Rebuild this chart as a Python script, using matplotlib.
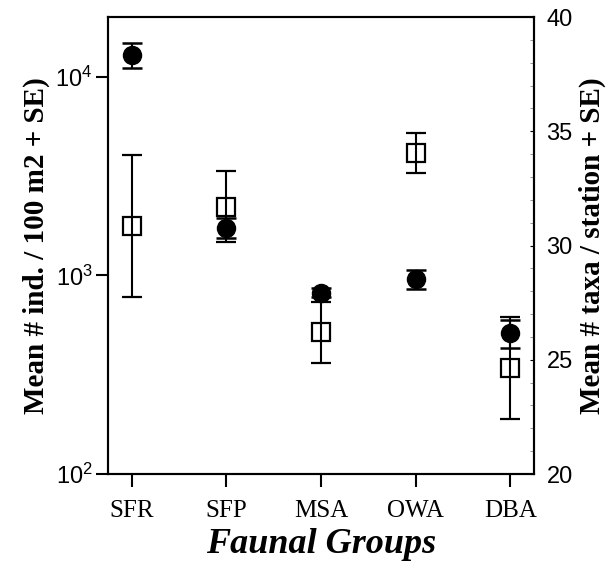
import matplotlib
matplotlib.use('Agg')
import matplotlib.pyplot as plt
from matplotlib.ticker import FixedLocator, MultipleLocator, NullLocator

plt.rcParams['mathtext.fontset'] = 'custom'
plt.rcParams['mathtext.rm'] = 'Liberation Sans'

# faunal groups on the x axis
groups = ['SFR', 'SFP', 'MSA', 'OWA', 'DBA']

# mean density (ind. / 100 m2) and SE - filled circles, left log axis
density = [12900, 1740, 820, 960, 515]
density_se = [1850, 205, 40, 105, 82]

# mean number of taxa per station and SE - open squares, right axis
taxa = [30.85, 31.7, 26.2, 34.05, 24.65]
taxa_se = [3.1, 1.56, 1.32, 0.89, 2.22]

left_ticks = [100, 1000, 10000]
left_labels = [r'$\mathregular{10^{2}}$', r'$\mathregular{10^{3}}$', r'$\mathregular{10^{4}}$']
right_ticks = [20, 25, 30, 35, 40]

x = list(range(len(groups)))

fig = plt.figure(figsize=(6.16, 5.79), dpi=100)
ax = fig.add_axes([0.1753, 0.1813, 0.6916, 0.7893])
ax2 = ax.twinx()

#circles with error bars on the log axis
ax.errorbar(x, density, yerr=density_se, fmt='o', color='black', ms=13,
            elinewidth=1.5, capsize=7, capthick=1.8)
#open squares on the right axis
ax2.errorbar(x, taxa, yerr=taxa_se, fmt='s', mfc='none', mec='black', mew=1.6,
             ms=13, ecolor='black', elinewidth=1.5, capsize=7, capthick=1.8)

ax.set_yscale('log')
ax.set_ylim(100, 20000)
ax.set_xlim(-0.25, 4.25)
ax.yaxis.set_major_locator(FixedLocator(left_ticks))
ax.yaxis.set_minor_locator(NullLocator())
ax.set_yticklabels(left_labels)
ax.set_xticks(x)
ax.set_xticklabels(groups, fontfamily='Liberation Serif', fontsize=18)

ax2.set_ylim(20, 40)
ax2.set_yticks(right_ticks)
ax2.yaxis.set_minor_locator(MultipleLocator(1))

#ticks and spines
for a in (ax, ax2):
    for s in a.spines.values():
        s.set_linewidth(1.5)
ax.tick_params(axis='y', direction='out', length=9, width=1.5, labelsize=17, pad=2)
ax.tick_params(axis='x', direction='out', length=9, width=1.5, pad=10)
ax2.tick_params(axis='y', which='major', direction='in', length=3, width=0.8,
                labelsize=17, pad=9, colors='black')
ax2.tick_params(axis='y', which='minor', direction='in', length=3, width=0.6, color='0.5')
for lab in ax.get_yticklabels() + ax2.get_yticklabels():
    lab.set_fontfamily('Liberation Sans')

#axis labels
ax.set_xlabel('Faunal Groups', fontfamily='Liberation Serif', fontsize=26,
              fontweight='bold', fontstyle='italic', labelpad=4)
ax.set_ylabel('Mean # ind. / 100 m2 + SE)', fontfamily='Liberation Serif',
              fontsize=21, fontweight='bold', labelpad=4)
ax2.set_ylabel('Mean # taxa / station + SE)', fontfamily='Liberation Serif',
               fontsize=21, fontweight='bold', rotation=90, labelpad=4)

fig.savefig('out.png', dpi=100)
